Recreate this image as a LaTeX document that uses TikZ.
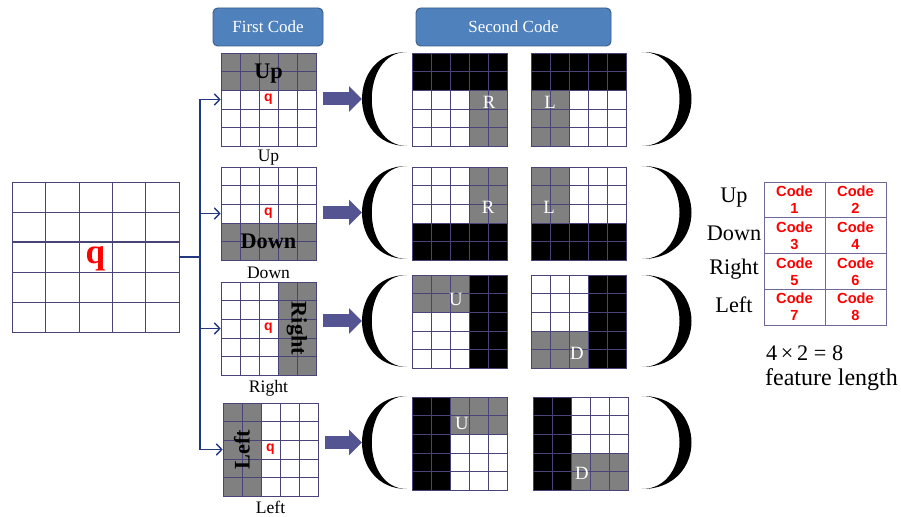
\documentclass[tikz,border=0pt]{standalone}
\usepackage{fontspec}
\setmainfont{Liberation Serif}
\newfontfamily\arialfont{Liberation Sans}
\usetikzlibrary{arrows.meta}
\definecolor{hdrblue}{RGB}{79,129,189}
\definecolor{hdrline}{RGB}{56,93,138}
\definecolor{gridc}{RGB}{72,68,120}
\definecolor{cellgray}{RGB}{128,128,128}
\definecolor{linkblue}{RGB}{35,55,130}
\definecolor{blockc}{RGB}{84,84,146}
\definecolor{tablec}{RGB}{112,104,150}
\definecolor{codered}{RGB}{255,0,0}

% inner lines of a 5x5 code grid, top left corner at (#1,#2)
\newcommand\cellgrid[2]{%
  \foreach \k in {1,...,4}{%
    \draw[gridline] ({#1+19*\k},#2) -- ++(0,93);
    \draw[gridline] (#1,{#2+18.6*\k}) -- ++(95,0);
  }}

\begin{document}
\begin{tikzpicture}[
    x=0.03cm, y=-0.03cm,
    header/.style={draw=hdrline,fill=hdrblue,rounded corners=4pt,line width=0.8pt,text=white,font=\fontsize{14.5}{16}\selectfont,minimum height=1.14cm},
    gridline/.style={gridc,line width=0.5pt},
    gridbox/.style={draw=gridc,line width=0.6pt,minimum width=2.85cm,minimum height=2.79cm,inner sep=0pt},
    biglabel/.style={font=\fontsize{19}{21}\selectfont\bfseries},
    wletter/.style={text=white,font=\fontsize{16}{18}\selectfont},
    qmark/.style={text=codered,font=\arialfont\bfseries\fontsize{12}{14}\selectfont},
    caption/.style={font=\fontsize{15}{17}\selectfont},
    link/.style={linkblue,line width=1.2pt},
    blockarrow/.style={-{Triangle[length=3.9mm,width=7.5mm]},line width=3.9mm,blockc},
    codecell/.style={draw=tablec,line width=0.6pt,minimum width=1.83cm,minimum height=1.0725cm,inner sep=0pt,align=center,text=codered,font=\arialfont\bfseries\fontsize{12.5}{14.5}\selectfont},
    rowlabel/.style={font=\fontsize{19}{21}\selectfont}
  ]
    \useasboundingbox (0,0) rectangle (901,517);

    % headers
    \node[header,minimum width=3.3cm] (hfirst) at (268,27) {First Code};
    \node[header,minimum width=5.85cm] (hsecond) at (513.5,27) {Second Code};

    % big grid
    \foreach \k in {1,...,4}{
      \draw[gridline] ({12+33.4*\k},182) -- ++(0,150);
      \draw[gridline] (12,{182+30*\k}) -- ++(167,0);
    }
    \draw[gridc,line width=1pt] (12,242) -- ++(167,0);
    \node[draw=gridc,line width=0.6pt,minimum width=5.01cm,minimum height=4.5cm,inner sep=0pt] (big) at (95.5,257) {};
    \node[text=codered,font=\bfseries\fontsize{30}{32}\selectfont] (qbig) at (95.5,259) {q};

    % first code
    \fill[cellgray] (221,53) rectangle ++(95,37.2);
    \cellgrid{221}{53}
    \node[gridbox] (fup) at (268.5,99.5) {};
    \node[biglabel] (tup) at (268.5,74) {Up};
    \node[qmark] (qup) at (268.5,99.5) {q};
    \node[caption] (cup) at (268.5,158) {Up};

    \fill[cellgray] (221,222.8) rectangle ++(95,37.2);
    \cellgrid{221}{167}
    \node[gridbox] (fdown) at (268.5,213.5) {};
    \node[biglabel] (tdown) at (268.5,241) {Down};
    \node[qmark] (qdown) at (268.5,213.5) {q};
    \node[caption] (cdown) at (268.5,273) {Down};

    \fill[cellgray] (278,282) rectangle ++(38,93);
    \cellgrid{221}{282}
    \node[gridbox] (fright) at (268.5,328.5) {};
    \node[biglabel,rotate=-90] (tright) at (297,328.5) {Right};
    \node[qmark] (qright) at (268.5,328.5) {q};
    \node[caption] (cright) at (268.5,388) {Right};

    \fill[cellgray] (223,403) rectangle ++(38,93);
    \cellgrid{223}{403}
    \node[gridbox] (fleft) at (270.5,449.5) {};
    \node[biglabel,rotate=90] (tleft) at (242,449.5) {Left};
    \node[qmark] (qleft) at (270.5,449.5) {q};
    \node[caption] (cleft) at (270.5,507) {Left};

    % branches
    \coordinate (trunk) at (200,257);
    \draw[link] (big.east) -- (trunk);
    \draw[link] (trunk |- fup.west) -- (trunk |- fleft.west);
    \foreach \g in {fup,fdown,fright,fleft}
      \draw[link,-{Straight Barb[length=1.6mm,width=3.4mm]}] (trunk |- \g.west) -- (\g.west);

    % brackets
    \foreach \t/\b [count=\i] in {52/146,166/259,275/367,396/489}{
      \fill (407,\t) .. controls (347,\t) and (347,\b) .. (407,\b)
                     .. controls (360,\b) and (360,\t) .. cycle;
      \fill (642,\t) .. controls (708,\t) and (708,\b) .. (642,\b)
                     .. controls (692,\b) and (692,\t) .. cycle;
      \coordinate (lp\i) at (362,{(\t+\b)/2});
    }
    \draw[blockarrow,shorten <=0.2cm] (fup.east |- lp1) -- (lp1);
    \draw[blockarrow,shorten <=0.2cm] (fdown.east |- lp2) -- (lp2);
    \draw[blockarrow,shorten <=0.2cm] (fright.east |- lp3) -- (lp3);
    \draw[blockarrow,shorten <=0.2cm] (fleft.east |- lp4) -- (lp4);

    % second code, row 1
    \fill (412,53) rectangle ++(95,37.2);
    \fill[cellgray] (469,90.2) rectangle (507,146);
    \cellgrid{412}{53}
    \node[gridbox] (s1a) at (459.5,99.5) {};
    \node[wletter] (r1) at (489,102) {R};
    \fill (531,53) rectangle ++(95,37.2);
    \fill[cellgray] (531,90.2) rectangle (569,146);
    \cellgrid{531}{53}
    \node[gridbox] (s1b) at (578.5,99.5) {};
    \node[wletter] (l1) at (550,102) {L};

    % row 2
    \fill[cellgray] (469,167) rectangle (507,222.8);
    \fill (412,222.8) rectangle (507,260);
    \cellgrid{412}{167}
    \node[gridbox] (s2a) at (459.5,213.5) {};
    \node[wletter] (r2) at (488,207) {R};
    \fill[cellgray] (531,167) rectangle (569,222.8);
    \fill (531,222.8) rectangle (626,260);
    \cellgrid{531}{167}
    \node[gridbox] (s2b) at (578.5,213.5) {};
    \node[wletter] (l2) at (549,207) {L};

    % row 3
    \fill (469,275) rectangle (507,368);
    \fill[cellgray] (412,275) rectangle (469,312.2);
    \cellgrid{412}{275}
    \node[gridbox] (s3a) at (459.5,321.5) {};
    \node[wletter] (u3) at (456,299) {U};
    \fill (588,275) rectangle (626,368);
    \fill[cellgray] (531,330.8) rectangle (588,368);
    \cellgrid{531}{275}
    \node[gridbox] (s3b) at (578.5,321.5) {};
    \node[wletter] (d3) at (577,353) {D};

    % row 4
    \fill (412,397) rectangle (450,490);
    \fill[cellgray] (450,397) rectangle (507,434.2);
    \cellgrid{412}{397}
    \node[gridbox] (s4a) at (459.5,443.5) {};
    \node[wletter] (u4) at (462,423) {U};
    \fill (533,397) rectangle (571,490);
    \fill[cellgray] (571,452.8) rectangle (628,490);
    \cellgrid{533}{397}
    \node[gridbox] (s4b) at (580.5,443.5) {};
    \node[wletter] (d4) at (582,473) {D};

    % feature table
    \foreach \r/\name in {0/Up,1/Down,2/Right,3/Left}{
      \node[rowlabel] (row\r) at (734,{198+35.75*\r}) {\name};
      \foreach \c in {0,1}{
        \pgfmathtruncatemacro\n{2*\r+\c+1}
        \node[codecell] (code\n) at ({794.5+61*\c},{199.9+35.75*\r}) {Code\\\n};
      }
    }
    \node[rowlabel,anchor=west] (eqn) at (762,353) {4\,×\,2 = 8};
    \node[rowlabel,anchor=west,font=\fontsize{20.5}{22}\selectfont] (flen) at (761,380) {feature length};
  \end{tikzpicture}
\end{document}
